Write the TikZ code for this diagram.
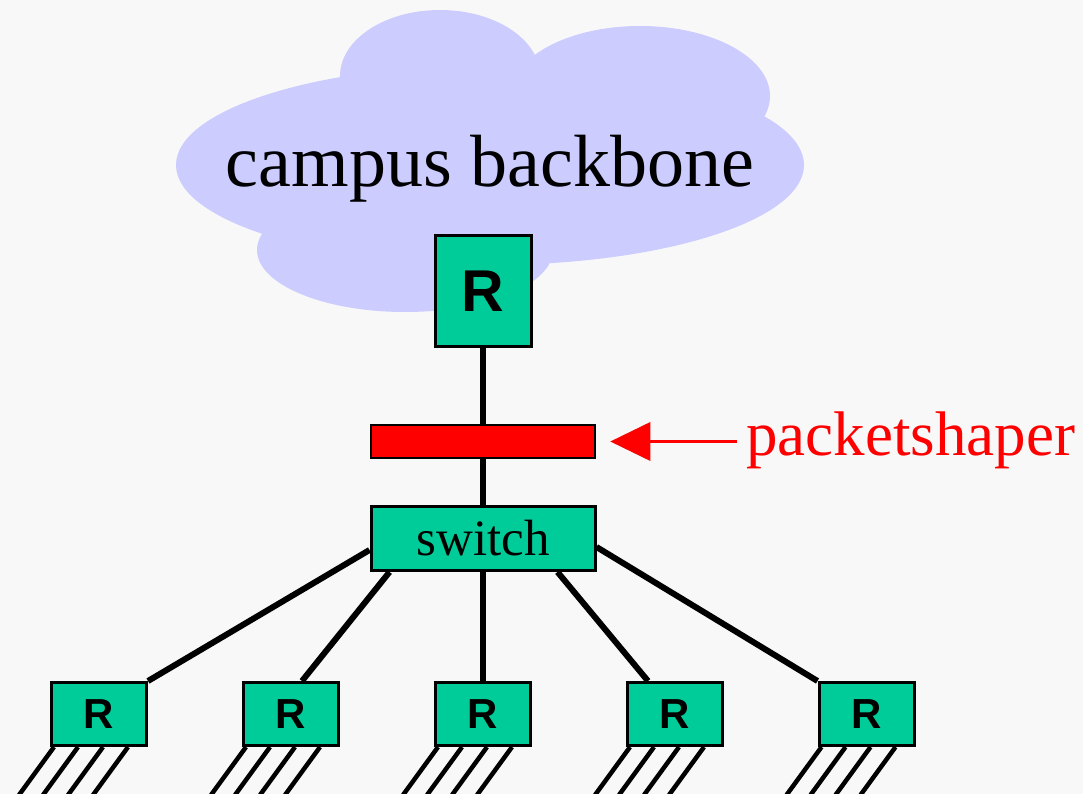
\documentclass[tikz,border=0pt]{standalone}
\usepackage{fontspec}
\setmainfont{Liberation Serif}
\setsansfont{Liberation Sans}
\usetikzlibrary{arrows.meta,calc}
\definecolor{bgc}{HTML}{F8F8F8}
\definecolor{cloudc}{HTML}{CCCCFF}
\definecolor{boxg}{HTML}{00CC99}
\begin{document}
\begin{tikzpicture}[x=1pt,y=-1pt,
  box/.style={draw=black,fill=boxg,line width=3pt,inner sep=0pt},
  rtop/.style={box,minimum width=96pt,minimum height=111pt,font=\sffamily\bfseries\fontsize{59}{60}\selectfont},
  rbot/.style={box,minimum width=95pt,minimum height=63pt,font=\sffamily\bfseries\fontsize{42}{44}\selectfont},
  link/.style={line width=6pt},
  hatch/.style={line width=4.5pt}]
\fill[bgc] (0,0) rectangle (1083,794);
\useasboundingbox (0,0) rectangle (1083,794);
% cloud
\fill[cloudc] (490,165) ellipse [x radius=314, y radius=100];
\fill[cloudc] (440,76) ellipse [x radius=100, y radius=66];
\fill[cloudc] (640,96) ellipse [x radius=130, y radius=70];
\fill[cloudc] (405,250) ellipse [x radius=148, y radius=62];
\node[font=\fontsize{74}{80}\selectfont, anchor=base, inner sep=0pt] (cb) at (490,187) {campus backbone};
% nodes
\node[rtop] (rt) at (483,291) {R};
\node[draw=black, fill=red, line width=2.5pt, minimum width=224pt, minimum height=33pt, inner sep=0pt] (bar) at (483,441.5) {};
\node[box, minimum width=224pt, minimum height=64pt, font=\fontsize{51}{54}\selectfont] (sw) at (483,538.5) {switch};
\node[rbot] (r1) at (99,714) {R};
\node[rbot] (r2) at (291,714) {R};
\node[rbot] (r3) at (483,714) {R};
\node[rbot] (r4) at (675,714) {R};
\node[rbot] (r5) at (866.5,714) {R};
% label and arrow
\node[text=red, font=\fontsize{63}{66}\selectfont, anchor=base west, inner xsep=9pt, inner ysep=0pt] (ps) at (737,455) {packetshaper};
\draw[red, line width=3.5pt, -{Triangle[length=40pt,width=38pt]}, shorten >=14pt] (ps.west |- bar.east) -- (bar.east);
% links
\draw[link] (rt.south) -- (bar.north);
\draw[link] (bar.south) -- (sw.north);
\draw[link] ($(sw.south west)+(0,-22)$) -- (r1.north east);
\draw[link] ($(sw.south west)+(20,0)$) -- ($(r2.north)+(11,0)$);
\draw[link] (sw.south) -- (r3.north);
\draw[link] ($(sw.south east)+(-39,0)$) -- ($(r4.north)+(-27,0)$);
\draw[link] ($(sw.south east)+(0,-25)$) -- (r5.north west);
% hatch lines
\foreach \n in {1,...,5}{
  \foreach \o in {4,28,53,78}{
    \draw[hatch] ($(r\n.south west)+(\o,0)$) -- ++(-35,48);
  }
}
\end{tikzpicture}
\end{document}
